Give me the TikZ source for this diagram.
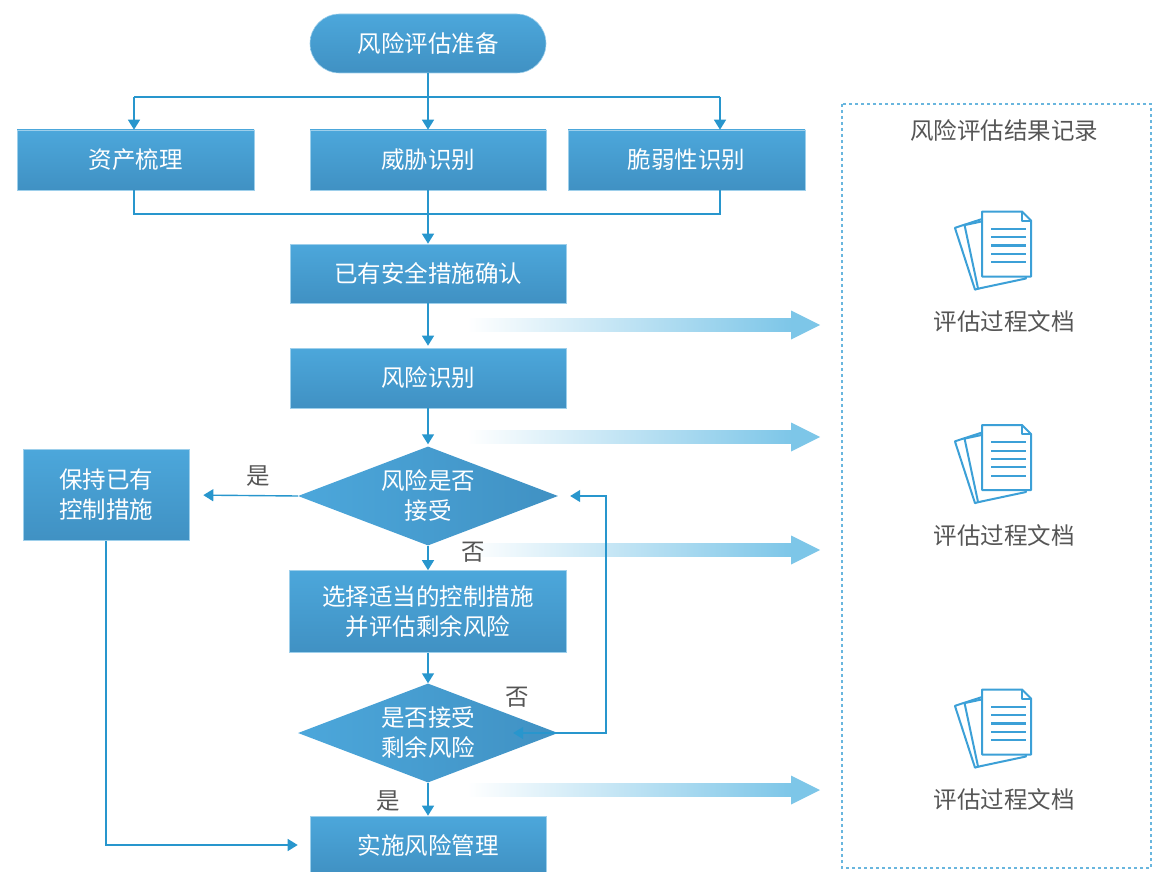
\documentclass[tikz,border=0pt]{standalone}
\usepackage{fontspec}
\newfontfamily\cjk{Noto Sans CJK SC}
\usetikzlibrary{shapes.geometric,arrows.meta,calc}
\definecolor{boxtop}{RGB}{76,167,219}
\definecolor{boxbot}{RGB}{64,145,195}
\definecolor{linec}{RGB}{40,150,205}
\definecolor{arrc}{RGB}{125,198,232}
\definecolor{labc}{RGB}{85,85,85}
\definecolor{iconc}{RGB}{60,160,215}
\definecolor{dashc}{RGB}{105,182,222}
\tikzset{
  cjktext/.style={font=\cjk\fontsize{23.5}{30}\selectfont},
  box/.style={rectangle, top color=boxtop, bottom color=boxbot, draw=boxtop!55!white,
    line width=0.6pt, text=white, cjktext, align=center, inner sep=0pt},
  dia/.style={diamond, left color=boxtop, right color=boxbot, text=white, cjktext,
    align=center, inner sep=0pt, shape aspect=2.6, minimum width=260pt, minimum height=99pt},
  cline/.style={draw=linec, line width=1.4pt},
  carr/.style={cline, -{Triangle[width=12pt,length=10pt]}},
  lab/.style={text=labc, cjktext, inner sep=0pt},
  bigarr/.pic={
    \shade[left color=white, right color=arrc] (0,-6.5) rectangle (325,6.5);
    \fill[arrc] (324,-14.5) -- (353,0) -- (324,14.5) -- cycle;
  },
  docicon/.pic={
    \begin{scope}[draw=iconc, line width=2pt, line join=round, fill=white]
      \filldraw[rotate around={18:(39.6,63)}] (-9.4,-2) rectangle (39.6,63);
      \filldraw[rotate around={12:(44,67)}] (-5,2) rectangle (44,67);
      \filldraw (0,0) -- (40,0) -- (49,9) -- (49,65) -- (0,65) -- cycle;
      \draw (40,0) -- (40,9) -- (49,9);
      \foreach \yy in {17.3,25.7,34,42.3,50.7} \draw[line width=2.3pt] (9,\yy) -- (44,\yy);
    \end{scope}
  }
}
\begin{document}
\begin{tikzpicture}[x=1pt,y=-1pt]
\useasboundingbox (0,0) rectangle (1154,872);

% dashed record area
\draw[dashc, line width=2pt, dash pattern=on 3pt off 3pt] (842,104) rectangle (1151,868);
\node[lab] (rectitle) at (1004,131) {风险评估结果记录};

% big gradient arrows
\pic (ga1) at (467,325) {bigarr};
\pic (ga2) at (467,437) {bigarr};
\pic (ga3) at (467,550) {bigarr};
\pic (ga4) at (467,790) {bigarr};

% document icons
\pic (ic1) at (982,211.5) {docicon};
\pic (ic2) at (982,425) {docicon};
\pic (ic3) at (982,689.5) {docicon};
\node[lab] (doc1) at (1004,321) {评估过程文档};
\node[lab] (doc2) at (1004,535) {评估过程文档};
\node[lab] (doc3) at (1004,799) {评估过程文档};

% nodes
\node[box, rounded corners=29.5pt, minimum width=236pt, minimum height=59pt] (start) at (428,43.5) {风险评估准备};
\node[box, minimum width=237pt, minimum height=60pt] (asset) at (135.5,160) {资产梳理};
\node[box, minimum width=236pt, minimum height=60pt] (threat) at (428,160) {威胁识别};
\node[box, minimum width=237pt, minimum height=60pt] (vuln) at (686.5,160) {脆弱性识别};
\node[box, minimum width=276pt, minimum height=59pt] (exist) at (428,273.5) {已有安全措施确认};
\node[box, minimum width=276pt, minimum height=60pt] (riskid) at (428,378) {风险识别};
\node[dia] (d1) at (428,496) {风险是否\\接受};
\node[box, minimum width=166pt, minimum height=91pt] (keep) at (106,495) {保持已有\\控制措施};
\node[box, minimum width=277pt, minimum height=82pt] (sel) at (428,611.5) {选择适当的控制措施\\并评估剩余风险};
\node[dia] (d2) at (428,733) {是否接受\\剩余风险};
\node[box, minimum width=236pt, minimum height=58pt] (impl) at (428,845) {实施风险管理};

% top fan-out
\coordinate (topbar) at (428,97);
\coordinate (botbar) at (428,214);
\coordinate (fanL) at (134,0);
\coordinate (fanR) at (720,0);
\draw[cline] (start.south) -- (topbar);
\draw[cline] (fanL |- topbar) -- (fanR |- topbar);
\draw[carr] (fanL |- topbar) -- (fanL |- asset.north);
\draw[carr] (topbar) -- (threat.north);
\draw[carr] (fanR |- topbar) -- (fanR |- vuln.north);
% fan-in
\draw[cline] (fanL |- asset.south) -- (fanL |- botbar) -- (fanR |- botbar) -- (fanR |- vuln.south);
\draw[carr] (threat.south) -- (exist.north);

% main flow
\draw[carr, shorten >=2pt] (exist.south) -- (riskid.north);
\draw[carr, shorten >=2pt] (riskid.south) -- (d1.north);
\draw[carr, shorten >=14pt] (d1.west) -- (keep.east);
\draw[carr] (d1.south) -- (sel.north);
\draw[carr] (sel.south) -- (d2.north);
\draw[carr] (d2.south) -- (impl.north);
\draw[carr, shorten >=12pt] (keep.south) |- (impl.west);

% loop back
\coordinate (loopx) at (606,0);
\draw[cline, {Triangle[width=12pt,length=10pt]}-{Triangle[width=12pt,length=10pt]}]
  ([xshift=-45pt]d2.east) -| (loopx |- d1.east) -- ([xshift=12pt]d1.east);

% labels
\node[lab] (yes1) at (258,476) {是};
\node[lab] (no1) at (473,552) {否};
\node[lab] (no2) at (517,697) {否};
\node[lab] (yes2) at (388,801) {是};
\end{tikzpicture}
\end{document}
